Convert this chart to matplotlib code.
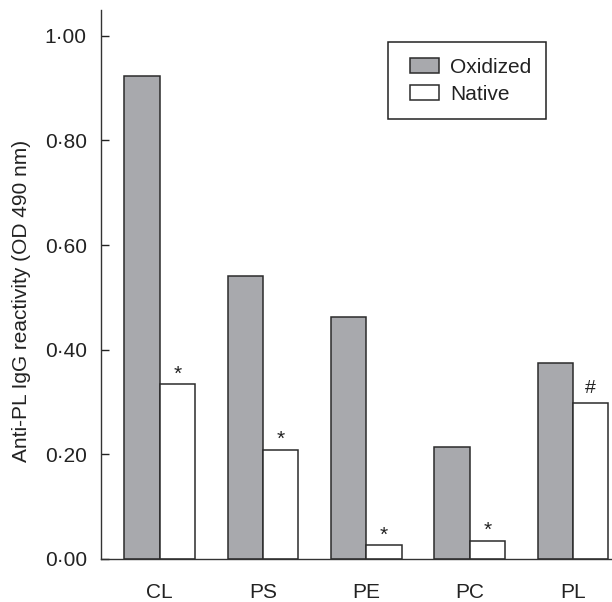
import numpy as np
import matplotlib
matplotlib.use("Agg")
import matplotlib.pyplot as plt
from matplotlib.patches import Rectangle
from matplotlib.legend_handler import HandlerPatch

plt.rcParams['font.family'] = ['Liberation Sans', 'DejaVu Sans']

categories = ['CL', 'PS', 'PE', 'PC', 'PL']
oxidized = [0.923, 0.541, 0.462, 0.214, 0.375]
native = [0.334, 0.208, 0.026, 0.035, 0.298]
native_marks = ['*', '*', '*', '*', '#']
ytick_values = [0.0, 0.2, 0.4, 0.6, 0.8, 1.0]
ytick_labels = ['0·00', '0·20', '0·40', '0·60', '0·80', '1·00']
series_labels = ['Oxidized', 'Native']

W, H = 612, 602
fig = plt.figure(figsize=(W / 100, H / 100), dpi=100)
ax = fig.add_axes([100.7 / W, (H - 559) / H, 1 - 100.7 / W, (559 - 9.6) / H])

x = np.arange(len(categories))
w = 0.343
edge = '#2b2b2b'
b1 = ax.bar(x - w / 2, oxidized, w, color='#a8a9ad', edgecolor=edge, linewidth=1.1, label=series_labels[0])
b2 = ax.bar(x + w / 2, native, w, color='white', edgecolor=edge, linewidth=1.1, label=series_labels[1])

for xi, v, m in zip(x, native, native_marks):
    if m == '*':
        ax.annotate(m, (xi + w / 2, v), xytext=(0, 3.5), textcoords='offset points',
                    ha='center', va='baseline', fontsize=15, color='#222222')
    else:
        ax.annotate(m, (xi + w / 2, v), xytext=(0, 7.5), textcoords='offset points',
                    ha='center', va='baseline', fontsize=14, color='#222222')

ax.set_xlim(-0.570, 4.377)
ax.set_ylim(0, 1.050)
ax.set_yticks(ytick_values)
ax.set_yticklabels(ytick_labels)
ax.set_xticks(x)
ax.set_xticklabels(categories)
ax.tick_params(axis='y', direction='in', length=6, width=1, pad=10, labelsize=15, colors='#222222')
ax.tick_params(axis='x', length=0, pad=17, labelsize=15, colors='#222222')
for s in ['top', 'right']:
    ax.spines[s].set_visible(False)
for s in ['left', 'bottom']:
    ax.spines[s].set_linewidth(1.0)
    ax.spines[s].set_color('#333333')

ax.set_ylabel('Anti-PL IgG reactivity (OD 490 nm)', fontsize=15, color='#222222')
ax.yaxis.set_label_coords(31 / W, 0.5, transform=fig.transFigure)


def make_patch(legend, orig_handle, xdescent, ydescent, width, height, fontsize):
    off = 5.0
    return Rectangle((-xdescent + off, -ydescent), width - off, height)


h1, h2 = b1.patches[0], b2.patches[0]
handler = HandlerPatch(patch_func=make_patch)
leg = ax.legend(handles=[h1, h2], labels=series_labels, loc='upper left',
                bbox_to_anchor=(387.7 / W, 1 - 42.3 / H), bbox_transform=fig.transFigure,
                borderaxespad=0, fontsize=15, frameon=True, fancybox=False,
                edgecolor='#222222', framealpha=1, borderpad=0.73,
                handlelength=1.75, handleheight=0.77, handletextpad=0.5, labelspacing=0.4,
                handler_map={h1: handler, h2: handler})
leg.get_frame().set_linewidth(1.1)
for t in leg.get_texts():
    t.set_color('#222222')

fig.savefig('out.png', dpi=100)
